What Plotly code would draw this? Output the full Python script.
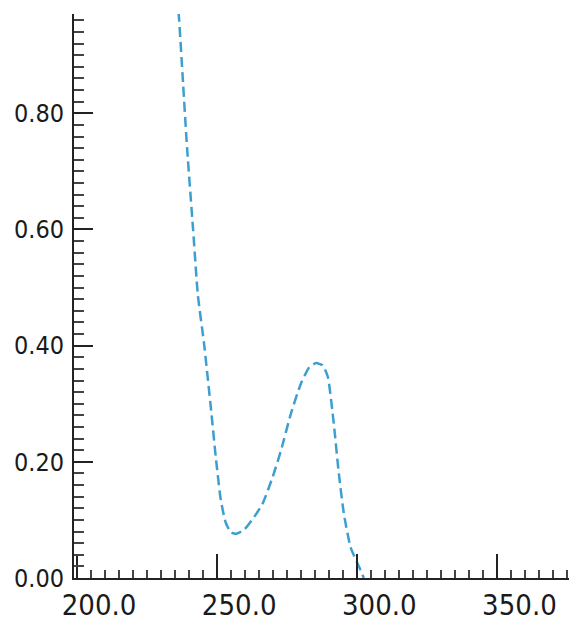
import plotly.graph_objects as go

wavelength = [235.6, 236.3, 237.8, 239.3, 241.4, 243.1, 245.3, 247.7, 249.5, 251.3,
              253.0, 254.8, 256.6, 259.6, 263.2, 266.2, 269.8, 272.8, 276.3, 279.9,
              282.9, 285.3, 287.7, 289.5, 291.6, 293.4, 295.2, 297.6, 301.2, 302.3]
absorbance = [1.000, 0.969, 0.853, 0.737, 0.600, 0.487, 0.404, 0.295, 0.208, 0.134,
              0.096, 0.079, 0.076, 0.083, 0.105, 0.128, 0.174, 0.220, 0.283, 0.335,
              0.363, 0.370, 0.366, 0.346, 0.266, 0.180, 0.111, 0.053, 0.013, 0.000]

x_ticks = [200, 250, 300, 350]
y_ticks = [0.0, 0.2, 0.4, 0.6, 0.8]

FONT = "DejaVu Sans Condensed, DejaVu Sans, sans-serif"

fig = go.Figure()
fig.add_trace(go.Scatter(
    x=wavelength, y=absorbance, mode="lines",
    line=dict(color="#3d9fd0", width=2.5, dash="10px,5px", shape="spline", smoothing=0.5),
    showlegend=False, hoverinfo="skip",
))

# page body has an 8px default margin; size the figure so it ends at the window edge
fig.update_layout(
    width=569, height=617,
    margin=dict(l=66, r=0, t=6, b=47),
    paper_bgcolor="white", plot_bgcolor="white",
    showlegend=False,
)
fig.update_xaxes(
    range=[198.9, 378.4], tickvals=x_ticks, tickformat=".1f",
    showline=True, linecolor="#222", linewidth=2, mirror=False,
    ticks="inside", ticklen=24, tickwidth=2, tickcolor="#222",
    minor=dict(ticks="inside", ticklen=8, tickwidth=1.5, tickcolor="#444", dtick=5, showgrid=False),
    showgrid=False, zeroline=False, automargin=False,
    tickfont=dict(family=FONT, size=29, color="#1a1a1a"),
    ticklabelshift=22,
)
fig.update_yaxes(
    range=[0, 0.971], tickvals=y_ticks, tickformat=".2f",
    showline=True, linecolor="#222", linewidth=2, mirror=False,
    ticks="inside", ticklen=19, tickwidth=2, tickcolor="#222",
    minor=dict(ticks="inside", ticklen=10, tickwidth=1.5, tickcolor="#444", dtick=0.02, showgrid=False),
    showgrid=False, zeroline=False, automargin=False,
    tickfont=dict(family=FONT, size=25, color="#1a1a1a"),
    ticklabelstandoff=3,
)

fig.write_html("out.html")
